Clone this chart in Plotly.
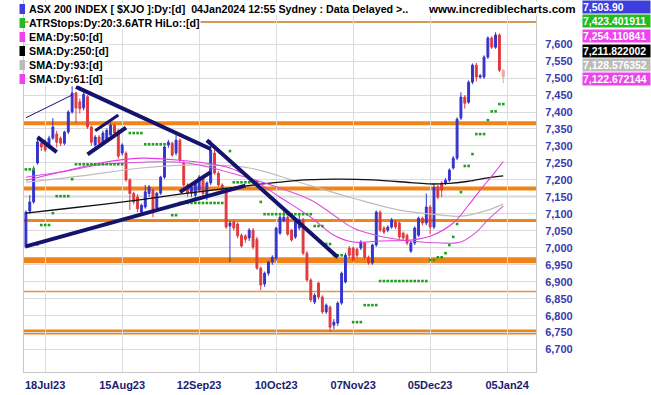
import pandas as pd
import plotly.graph_objects as go

# ---------------- trading calendar (ASX) ----------------
holidays = ["2023-12-25", "2023-12-26", "2024-01-01"]
calendar = [d.strftime("%Y-%m-%d") for d in pd.bdate_range("2023-07-11", "2024-01-17")
            if d.strftime("%Y-%m-%d") not in holidays]
n_bars = 125
dates = calendar[:n_bars]

# ---------------- OHLC ----------------
opens = [7002, 7108, 7135, 7250, 7308, 7308, 7297, 7323, 7335, 7323,
         7308, 7341, 7400, 7456, 7430, 7412, 7445, 7356, 7303, 7326,
         7308, 7317, 7332, 7361, 7345, 7279, 7279, 7200, 7160, 7150,
         7105, 7120, 7160, 7170, 7117, 7161, 7208, 7303, 7308, 7279,
         7317, 7250, 7185, 7161, 7155, 7170, 7210, 7155, 7191, 7279,
         7220, 7185, 7170, 7064, 7076, 7070, 7037, 7035, 7029, 7052,
         7025, 6940, 6893, 6925, 6958, 6969, 7043, 7080, 7090, 7052,
         7032, 7058, 7082, 6984, 6905, 6840, 6896, 6855, 6811, 6825,
         6772, 6778, 6837, 6899, 6999, 6999, 6996, 6999, 7014, 6972,
         6955, 7008, 7105, 7058, 7052, 7061, 7076, 7073, 7043, 7037,
         6990, 7014, 7037, 7087, 7073, 7120, 7061, 7179, 7191, 7191,
         7199, 7235, 7264, 7382, 7444, 7429, 7488, 7538, 7503, 7503,
         7562, 7618, 7591, 7627, 7523]
highs = [7110, 7155, 7240, 7322, 7316, 7320, 7330, 7382, 7345, 7328,
         7345, 7405, 7476, 7460, 7440, 7460, 7450, 7360, 7332, 7332,
         7345, 7352, 7368, 7366, 7350, 7308, 7284, 7205, 7165, 7158,
         7130, 7185, 7185, 7175, 7165, 7212, 7300, 7318, 7312, 7332,
         7322, 7255, 7190, 7185, 7198, 7214, 7215, 7196, 7317, 7290,
         7225, 7190, 7175, 7079, 7082, 7075, 7042, 7040, 7058, 7058,
         7032, 6945, 6930, 6962, 6978, 7062, 7095, 7111, 7095, 7056,
         7080, 7096, 7088, 6990, 6910, 6866, 6900, 6860, 6836, 6830,
         6790, 6842, 6930, 6985, 7005, 7003, 7000, 7022, 7018, 6977,
         7012, 7110, 7110, 7064, 7066, 7088, 7082, 7078, 7048, 7042,
         7020, 7063, 7092, 7092, 7160, 7126, 7190, 7185, 7196, 7205,
         7234, 7270, 7384, 7458, 7450, 7493, 7543, 7545, 7512, 7567,
         7623, 7623, 7635, 7632, 7526]
lows = [6998, 7100, 7130, 7245, 7285, 7282, 7292, 7318, 7295, 7300,
        7302, 7335, 7395, 7367, 7395, 7405, 7350, 7300, 7295, 7300,
        7302, 7312, 7328, 7330, 7262, 7272, 7195, 7111, 7128, 7105,
        7098, 7115, 7150, 7090, 7110, 7156, 7203, 7295, 7268, 7272,
        7252, 7180, 7150, 7150, 7145, 7165, 7146, 7140, 7185, 7215,
        7180, 7165, 7055, 6958, 7050, 7028, 7000, 7015, 7020, 6995,
        6935, 6875, 6885, 6918, 6950, 6962, 7038, 7075, 7035, 7018,
        7026, 7052, 6978, 6900, 6840, 6834, 6848, 6805, 6805, 6752,
        6760, 6770, 6832, 6895, 6970, 6958, 6970, 6993, 6966, 6950,
        6950, 7003, 7046, 7040, 7046, 7056, 7055, 7026, 7023, 7008,
        6985, 7008, 7032, 7066, 7066, 7040, 7055, 7143, 7149, 7185,
        7194, 7230, 7258, 7376, 7410, 7424, 7482, 7490, 7498, 7498,
        7556, 7586, 7586, 7518, 7485]
closes = [7105, 7135, 7229, 7312, 7297, 7288, 7323, 7356, 7311, 7308,
          7341, 7400, 7456, 7412, 7410, 7452, 7356, 7311, 7326, 7308,
          7338, 7346, 7361, 7338, 7270, 7303, 7200, 7160, 7135, 7115,
          7125, 7165, 7179, 7111, 7161, 7208, 7297, 7311, 7273, 7317,
          7258, 7185, 7161, 7179, 7193, 7208, 7160, 7191, 7288, 7220,
          7185, 7172, 7061, 7073, 7058, 7035, 7005, 7025, 7052, 7002,
          6940, 6890, 6925, 6958, 6972, 7058, 7090, 7090, 7040, 7023,
          7076, 7082, 6984, 6905, 6846, 6860, 6855, 6811, 6831, 6766,
          6781, 6837, 6925, 6978, 6978, 6964, 6978, 7017, 6972, 6955,
          7008, 7105, 7052, 7046, 7061, 7082, 7061, 7032, 7029, 7014,
          7014, 7058, 7087, 7073, 7120, 7061, 7178, 7149, 7170, 7199,
          7229, 7264, 7379, 7444, 7426, 7488, 7538, 7503, 7507, 7562,
          7618, 7591, 7627, 7523, 7503.9]

# ---------------- ATR stops (20, 3.6 ATR HiLo) ----------------
N = None
atr_stop = ([7231] * 3 + [7010] + [7067] * 3 + [7102] + [7152] * 4 + [7202] + [7246] * 13 +
            [N] + [7338] * 4 + [7305] * 6 + [N] + [7096] * 2 + [7132] * 12 + [N] + [7285] +
            [7193] * 7 + [7135] + [7099] * 13 + [7064] * 3 + [7011] * 2 + [6978] * 3 + [N] * 2 +
            [6781] * 3 + [6831] * 4 + [6902] * 13 + [6964] * 2 + [6972] * 2 + [6984] + [7008] +
            [7032] + [7070] + [7164] + [7241] * 2 + [7276] + [7335] * 3 + [7376] + [7402] * 2 +
            [7423.401911] * 2)

# ---------------- moving averages (by bar number) ----------------
ema50_bar = [0, 9, 19, 30, 40, 45, 53, 58, 66, 74, 80, 85, 92, 100, 105, 111, 115, 118, 121, 124]
ema50_val = [7199, 7223, 7249, 7264, 7258, 7252, 7235, 7208, 7149, 7090, 7037, 7017, 7020, 7023,
             7034, 7073, 7126, 7170, 7211, 7254.110841]
sma61_bar = [0, 9, 19, 30, 40, 45, 58, 66, 74, 80, 85, 92, 100, 108, 113, 117, 120, 124]
sma61_val = [7208, 7223, 7244, 7252, 7252, 7244, 7205, 7176, 7141, 7096, 7058, 7034, 7020, 7014,
             7017, 7046, 7082, 7122.672144]
sma93_bar = [0, 14, 30, 45, 58, 71, 85, 97, 108, 113, 120, 124]
sma93_val = [7193, 7211, 7235, 7244, 7235, 7193, 7146, 7111, 7096, 7093, 7111, 7128.576352]
sma250_bar = [0, 10, 20, 30, 40, 50, 60, 70, 80, 90, 100, 105, 110, 115, 120, 124]
sma250_val = [7102, 7115, 7128, 7142, 7158, 7172, 7186, 7198, 7202, 7200, 7192, 7188, 7190, 7196,
              7206, 7211.822002]

# ---------------- drawn trend lines (bar, value) ----------------
trend_start_bar = [0, 0, 13, 47, 3, 18, 16, 40]
trend_start_val = [7004, 7383, 7474, 7317, 7326, 7345, 7275, 7164]
trend_end_bar = [57, 12, 48, 81, 8, 24, 26, 48]
trend_end_val = [7183, 7450, 7291, 6972, 7282, 7391, 7354, 7223]

# ---------------- support / resistance levels ----------------
levels = [7665, 7367, 7175, 7151, 7080, 6963, 6871, 6752]

# ---------------- ticks & labels ----------------
tick_dates = ["2023-07-18", "2023-08-15", "2023-09-12", "2023-10-10", "2023-11-07", "2023-12-05", "2024-01-05"]
tick_labels = ["18Jul23", "15Aug23", "12Sep23", "10Oct23", "07Nov23", "05Dec23", "05Jan24"]
y_ticks = [6700, 6750, 6800, 6850, 6900, 6950, 7000, 7050, 7100, 7150, 7200, 7250, 7300, 7350,
           7400, 7450, 7500, 7550, 7600]
y_tick_labels = ["6,700", "6,750", "6,800", "6,850", "6,900", "6,950", "7,000", "7,050", "7,100",
                 "7,150", "7,200", "7,250", "7,300", "7,350", "7,400", "7,450", "7,500", "7,550", "7,600"]

legend_labels = ["ASX 200 INDEX [ $XJO ]:Dy:[d]  04Jan2024 12:55 Sydney : Data Delayed >..",
                 "ATRStops:Dy:20:3.6ATR HiLo::[d]", "EMA:Dy:50:[d]", "SMA:Dy:250:[d]",
                 "SMA:Dy:93:[d]", "SMA:Dy:61:[d]"]
value_labels = ["7,503.90", "7,423.401911", "7,254.110841", "7,211.822002", "7,128.576352", "7,122.672144"]
site_label = "www.incrediblecharts.com"

# ---------------- styles ----------------
UP, DOWN, LAST = "#3333CC", "#E0393E", "#F2A3A3"
TREND = "#14146E"
legend_colors = ["#3E3EDE", "#22BB22", "#EE44EE", "#000000", "#BBBBBB", "#EE44EE"]
level_colors = ["#D29B58", "#F0841A", "#F0841A", "#EE9438", "#F0841A", "#F0841A", "#EE9438", "#F0841A"]
level_widths = [2, 4, 4, 1.5, 3, 6, 1.5, 5]
trend_widths = [4, 1, 4, 4, 4, 3, 4, 4]

PX_L, PX_R, PX_T, PX_B = 24, 536, 0, 372


def px_x(X):
    return (X - PX_L) / (PX_R - PX_L)


def px_y(Y):
    return 1 - (Y - PX_T) / (PX_B - PX_T)


fig = go.Figure()

# MAs
for bars, vals, col, w in [(sma93_bar, sma93_val, "#BDBDBD", 1.2),
                           (sma250_bar, sma250_val, "#111111", 1.3),
                           (sma61_bar, sma61_val, "#D950D9", 1.1),
                           (ema50_bar, ema50_val, "#E23CE2", 1.1)]:
    fig.add_trace(go.Scatter(x=[dates[b] for b in bars], y=vals, mode="lines",
                             line=dict(color=col, width=w, shape="spline", smoothing=1.0),
                             hoverinfo="skip"))

# ATR stop dots
fig.add_trace(go.Scatter(x=dates, y=atr_stop, mode="markers",
                         marker=dict(symbol="square", size=2.6, color="#1EA01E", line=dict(width=0)),
                         hoverinfo="skip"))

# candles (all but the live bar)
fig.add_trace(go.Candlestick(
    x=dates[:-1], open=opens[:-1], high=highs[:-1], low=lows[:-1], close=closes[:-1],
    increasing=dict(line=dict(color=UP, width=1), fillcolor=UP),
    decreasing=dict(line=dict(color=DOWN, width=1), fillcolor=DOWN),
    whiskerwidth=0, hoverinfo="skip"))
# live bar
fig.add_trace(go.Candlestick(
    x=dates[-1:], open=opens[-1:], high=highs[-1:], low=lows[-1:], close=closes[-1:],
    increasing=dict(line=dict(color=LAST, width=1), fillcolor=LAST),
    decreasing=dict(line=dict(color=LAST, width=1), fillcolor=LAST),
    whiskerwidth=0, hoverinfo="skip"))

# trend lines
for sb, sv, eb, ev, w in zip(trend_start_bar, trend_start_val, trend_end_bar, trend_end_val, trend_widths):
    fig.add_trace(go.Scatter(x=[dates[sb], dates[eb]], y=[sv, ev], mode="lines",
                             line=dict(color=TREND, width=w), hoverinfo="skip"))

# level lines
for lv, col, w in zip(levels, level_colors, level_widths):
    fig.add_shape(type="line", xref="paper", x0=0, x1=1, yref="y", y0=lv, y1=lv,
                  line=dict(color=col, width=w), layer="between")

annotations = []
# legend (top-left)
row_y = [9, 23, 37, 51, 65, 79]
for txt, col, cy in zip(legend_labels, legend_colors, row_y):
    fig.add_shape(type="rect", xref="paper", yref="paper",
                  x0=px_x(19.5), x1=px_x(25), y0=px_y(cy + 5), y1=px_y(cy - 5),
                  fillcolor=col, line=dict(width=0), layer="above")
    annotations.append(dict(x=px_x(28), y=px_y(cy), xref="paper", yref="paper", xanchor="left",
                            yanchor="middle", text="<b>" + txt + "</b>", showarrow=False,
                            font=dict(family="Arial", size=10.7, color="#000000"),
                            bgcolor="white", borderpad=0))
# site label
annotations.append(dict(x=px_x(427), y=px_y(9), xref="paper", yref="paper", xanchor="left",
                        yanchor="middle", text="<b>" + site_label + "</b>", showarrow=False,
                        font=dict(family="Arial", size=11.6, color="#000000"),
                        bgcolor="white", borderpad=0))
# value boxes (right)
box_y = [7, 21.5, 36, 50.5, 65, 79]
for txt, col, cy in zip(value_labels, legend_colors, box_y):
    annotations.append(dict(x=px_x(582), y=px_y(cy), xref="paper", yref="paper", xanchor="left",
                            yanchor="middle", text="<b>" + txt + "</b>", showarrow=False,
                            width=67, height=12, align="left",
                            font=dict(family="Arial", size=10.4, color="white"),
                            bgcolor=col, borderpad=0))

fig.update_layout(
    width=651, height=395,
    margin=dict(l=PX_L, r=651 - PX_R, t=PX_T, b=395 - PX_B),
    plot_bgcolor="white", paper_bgcolor="white",
    showlegend=False,
    annotations=annotations,
    xaxis=dict(type="category", categoryorder="array", categoryarray=calendar,
               range=[-0.5, 132.5], tickvals=tick_dates, ticktext=tick_labels,
               showgrid=True, gridcolor="#DCDCDC", gridwidth=1,
               showline=True, linecolor="#C8C8C8", linewidth=1, ticks="",
               ticklabelstandoff=3,
               tickfont=dict(family="Arial", size=11, color="#1C1C70", weight="bold"),
               rangeslider=dict(visible=False), fixedrange=True),
    yaxis=dict(side="right", range=[6634, 7730], tickvals=y_ticks, ticktext=y_tick_labels,
               showgrid=True, gridcolor="#DCDCDC", gridwidth=1, zeroline=False,
               showline=True, mirror=True, linecolor="#C8C8C8", linewidth=1, ticks="",
               ticklabelstandoff=6,
               tickfont=dict(family="Arial", size=11, color="#3A3AB0", weight="bold"),
               fixedrange=True),
)

fig.write_html("out.html", config={"displayModeBar": False},
               post_script="document.body.style.margin='0px';document.body.style.padding='0px';")
